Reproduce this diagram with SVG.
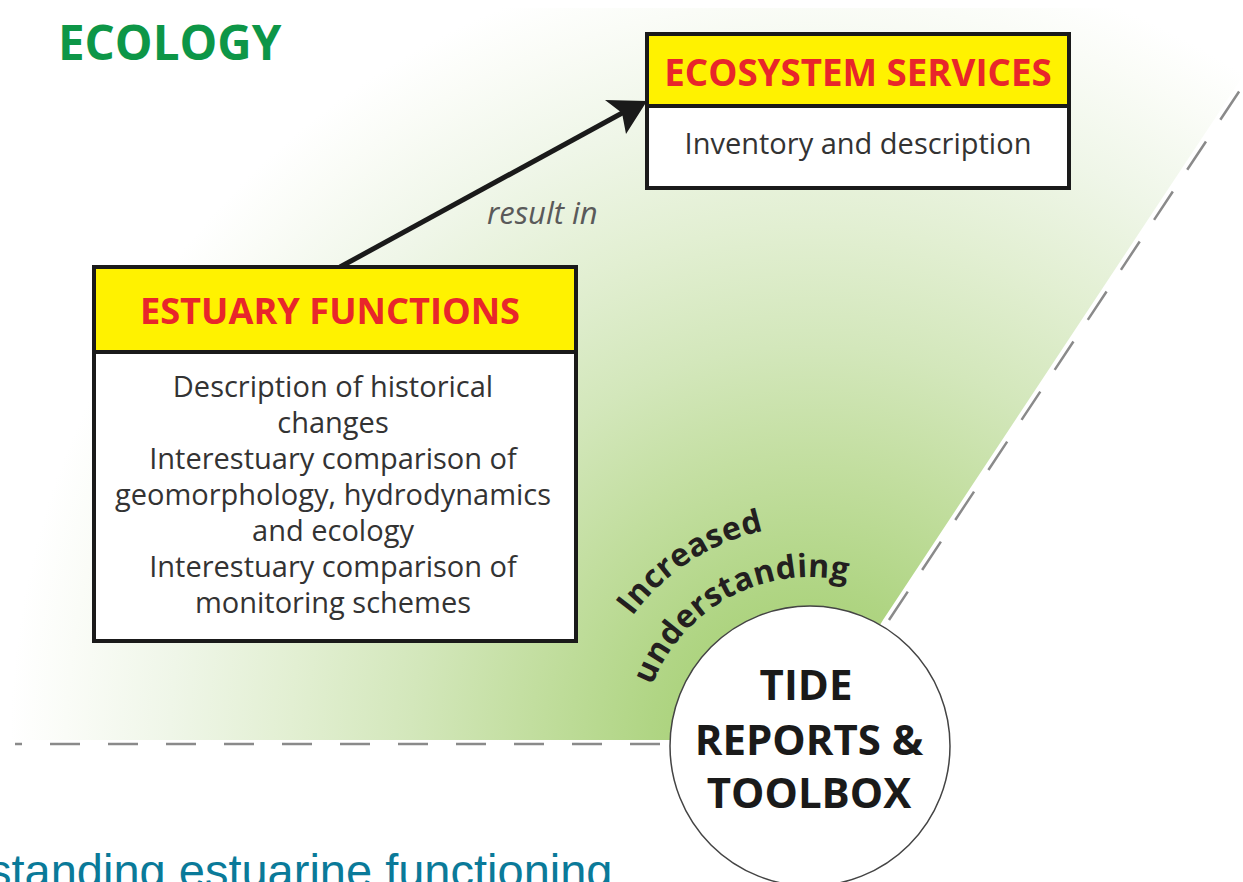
<svg xmlns="http://www.w3.org/2000/svg" width="1243" height="882" viewBox="0 0 1243 882">
  <defs>
    <radialGradient id="greenGlow" gradientUnits="userSpaceOnUse" cx="810" cy="746" r="800">
      <stop offset="0" stop-color="#9ccb63"/>
      <stop offset="0.2" stop-color="#b0d584"/>
      <stop offset="0.35" stop-color="#c2de9f"/>
      <stop offset="0.5" stop-color="#d3e7bb"/>
      <stop offset="0.65" stop-color="#e2efd2"/>
      <stop offset="0.8" stop-color="#eff6e8"/>
      <stop offset="0.93" stop-color="#fafcf7"/>
      <stop offset="1" stop-color="#ffffff"/>
    </radialGradient>
    <path id="arcInner" d="M 641,746 A 169 169 0 0 1 979,746"/>
    <path id="arcOuter" d="M 590,746 A 220 220 0 0 1 1030,746"/>
    <style>
      .box { fill: #ffffff; stroke: #1a1a1a; stroke-width: 4; }
      .head { fill: #fff200; stroke: #1a1a1a; stroke-width: 4; }
      .title { font-family: "Open Sans", "Noto Sans", sans-serif; font-weight: bold; fill: #e8262b; text-anchor: middle; }
      .body { font-family: "Open Sans", "Noto Sans", sans-serif; fill: #333333; text-anchor: middle; font-size: 29px; }
      .tide { font-family: "Open Sans", "Noto Sans", sans-serif; font-weight: bold; fill: #1a1a1a; text-anchor: middle; font-size: 42px; }
      .curve { font-family: "Open Sans", "Noto Sans", sans-serif; font-weight: bold; fill: #231f20; font-size: 32px; letter-spacing: 0.5px; }
      .dash { fill: none; stroke: #8a8a8a; stroke-width: 2.5; }
    </style>
  </defs>

  <rect width="1243" height="882" fill="#ffffff"/>

  <g id="background">
    <path d="M0,8 L1288,8 L883,620 L810,740 L0,740 Z" fill="url(#greenGlow)"/>
  </g>

  <g id="boundaries">
    <line class="dash" x1="15" y1="744" x2="668" y2="744" stroke-dasharray="30 28" stroke-dashoffset="23"/>
    <line class="dash" x1="889" y1="620" x2="1250" y2="75" stroke-dasharray="34 26"/>
  </g>

  <text id="ecology-label" x="58" y="60" font-family="'Open Sans', 'Noto Sans', sans-serif" font-weight="bold" font-size="47.5" fill="#0d9647">ECOLOGY</text>

  <g id="connectors">
    <line x1="340" y1="267" x2="624" y2="112" stroke="#1a1a1a" stroke-width="5"/>
    <polygon points="647,101 605,100 622,113 626,134" fill="#1a1a1a"/>
    <text x="487" y="224" font-family="'Open Sans', 'Noto Sans', sans-serif" font-style="italic" font-size="31" fill="#5a5a5a">result in</text>
  </g>

  <g id="ecosystem-services">
    <rect class="box" x="647" y="34" width="422" height="154"/>
    <rect class="head" x="647" y="34" width="422" height="72"/>
    <text class="title" x="858" y="86" font-size="36.7">ECOSYSTEM SERVICES</text>
    <text class="body" x="858" y="154">Inventory and description</text>
  </g>

  <g id="estuary-functions">
    <rect class="box" x="94" y="267" width="482" height="374"/>
    <rect class="head" x="94" y="267" width="482" height="85"/>
    <text class="title" x="330" y="324" font-size="36.2">ESTUARY FUNCTIONS</text>
    <text class="body" x="333" y="397">Description of historical</text>
    <text class="body" x="333" y="433">changes</text>
    <text class="body" x="333" y="469">Interestuary comparison of</text>
    <text class="body" x="333" y="505">geomorphology, hydrodynamics</text>
    <text class="body" x="333" y="541">and ecology</text>
    <text class="body" x="333" y="577">Interestuary comparison of</text>
    <text class="body" x="333" y="613">monitoring schemes</text>
  </g>

  <g id="increased-understanding">
    <text class="curve" text-anchor="middle"><textPath href="#arcOuter" startOffset="31.7%">Increased</textPath></text>
    <text class="curve" text-anchor="middle"><textPath href="#arcInner" startOffset="34.4%">understanding</textPath></text>
  </g>

  <g id="tide-reports-toolbox">
    <circle cx="810" cy="746" r="140" fill="#ffffff" stroke="#444444" stroke-width="1.5"/>
    <text class="tide" x="806" y="700">TIDE</text>
    <text class="tide" x="809" y="755">REPORTS &amp;</text>
    <text class="tide" x="809" y="808">TOOLBOX</text>
  </g>

  <text id="footer" x="-12" y="887" font-family="'Liberation Sans', Arial, sans-serif" font-size="47" fill="#0a7a99">standing estuarine functioning</text>
</svg>
